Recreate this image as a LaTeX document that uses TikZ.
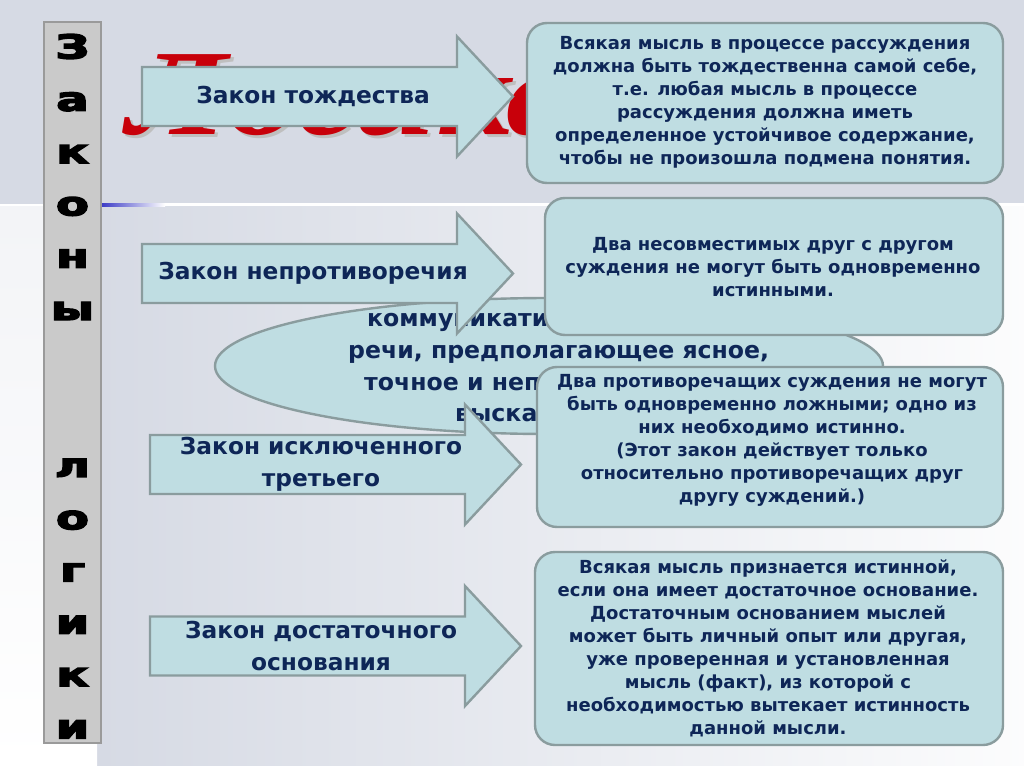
\documentclass[tikz,border=0pt]{standalone}
\usepackage{fontspec}
\setmainfont{DejaVu Sans}
\newfontfamily\barfont[FakeBold=4]{DejaVu Sans}
\newfontfamily\titlefont{Liberation Serif}
\usetikzlibrary{shapes.geometric}

\definecolor{lawfill}{HTML}{BFDDE2}
\definecolor{lawline}{HTML}{8A9C9E}
\definecolor{lawtext}{HTML}{0E2657}
\definecolor{barfill}{HTML}{CACACA}
\definecolor{barline}{HTML}{9A9A9A}
\definecolor{band}{HTML}{D6DAE4}
\definecolor{titlered}{HTML}{C8000A}

\begin{document}
\begin{tikzpicture}[x=1pt,y=-1pt,
  lawarrow/.style={draw=lawline,line width=2.4pt,fill=lawfill,line join=miter},
  lawlabel/.style={text=lawtext,font=\fontsize{23.3}{32}\selectfont\bfseries,align=center},
  infobox/.style={draw=lawline,line width=2.4pt,fill=lawfill,rounded corners=20pt},
  infotext/.style={text=lawtext,font=\fontsize{18}{23}\selectfont\bfseries,align=center},
  defntext/.style={text=lawtext,font=\fontsize{23.6}{32}\selectfont\bfseries,anchor=base west,inner sep=0pt},
  barletter/.style={font=\fontsize{33}{33}\barfont\bfseries,anchor=base,inner sep=0pt},
  bigtitle/.style={font=\fontsize{122}{122}\titlefont\bfseries\itshape,anchor=base west,inner sep=0pt}]
\useasboundingbox (0,0) rectangle (1024,767);

% slide background
\fill[white] (0,0) rectangle (1024,767);
\fill[band] (0,0) rectangle (1024,204);
\shade[left color=band,right color=white!92!band] (97,207) rectangle (1024,765);
\shade[top color=white!70!band,bottom color=white] (0,207) rectangle (97,767);
\draw[white,line width=3pt] (97,205) -- (1024,205);
\shade[left color=blue!55!gray,right color=white] (101,203.5) rectangle (165,206.5);

% vertical title bar
\draw[fill=barfill,draw=barline,line width=2.5pt] (44,22) rectangle (101,743);
\foreach \ch [count=\i from 0] in {З,а,к,о,н,ы,{},{},л,о,г,и,к,и}
  \node[barletter] (bar\i) at (72.5,58.5+52.3*\i) {\scalebox{1.45}[1]{\ch}};

% title behind the first arrow
\node[bigtitle,text=gray!50] (titleshadow) at (130,138) {\scalebox{1.2}[1]{Логика}};
\node[bigtitle,text=titlered] (title) at (127,135) {\scalebox{1.2}[1]{Логика}};

% definition ellipse
\node[draw=lawline,line width=2.4pt,fill=lawfill,ellipse,
  minimum width=668,minimum height=136] (defn) at (549,366) {};
\node[defntext] (defn1) at (367,326) {коммуникати};
\node[defntext] (defn2) at (348,358) {речи, предполагающее ясное,};
\node[defntext] (defn3) at (364,390) {точное и непр};
\node[defntext] (defn4) at (455,421) {выска};

% law arrows
\foreach \nm/\x/\y/\txt in {tozh/142/96.5/{Закон тождества},
    neprot/142/273.5/{Закон непротиворечия},
    iskl/150/464.5/{Закон исключенного\\третьего},
    dost/150/646/{Закон достаточного\\основания}} {
  \draw[lawarrow] (\x,\y-29.5) -- ++(315,0) -- ++(0,-30.5) -- ++(56,60)
    -- ++(-56,60) -- ++(0,-30.5) -- ++(-315,0) -- cycle;
  \node[lawlabel] (\nm) at (\x+171,\y) {\txt};
}

% explanations
\draw[infobox] (527,23) rectangle (1003,183);
\node[infotext] (tozhtext) at (765,102) {Всякая мысль в процессе рассуждения\\
  должна быть тождественна самой себе,\\т.е. любая мысль в процессе\\
  рассуждения должна иметь\\определенное устойчивое содержание,\\
  чтобы не произошла подмена понятия.};
\draw[infobox] (545,198) rectangle (1003,335);
\node[infotext] (neprottext) at (773,267) {Два несовместимых друг с другом\\
  суждения не могут быть одновременно\\истинными.};
\draw[infobox] (537,367) rectangle (1003,527);
\node[infotext] (iskltext) at (772,440) {Два противоречащих суждения не могут\\
  быть одновременно ложными; одно из\\них необходимо истинно.\\
  (Этот закон действует только\\относительно противоречащих друг\\
  другу суждений.)};
\draw[infobox] (535,552) rectangle (1003,745);
\node[infotext] (dosttext) at (768,648) {Всякая мысль признается истинной,\\
  если она имеет достаточное основание.\\Достаточным основанием мыслей\\
  может быть личный опыт или другая,\\уже проверенная и установленная\\
  мысль (факт), из которой с\\необходимостью вытекает истинность\\
  данной мысли.};
\end{tikzpicture}
\end{document}
